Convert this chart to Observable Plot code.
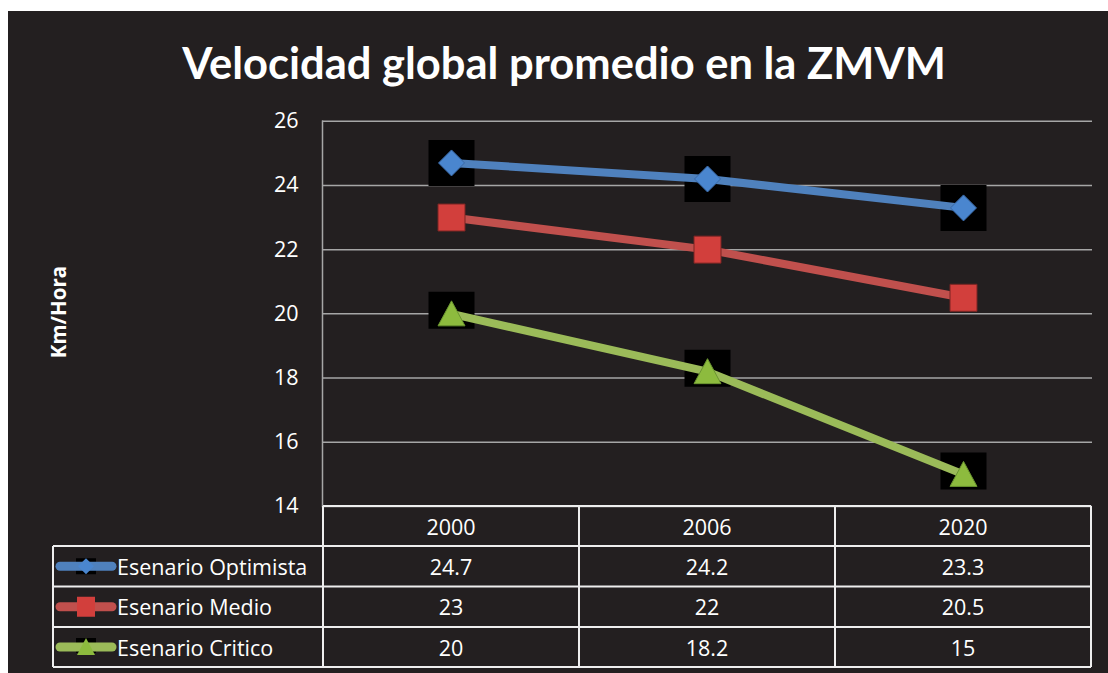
<!DOCTYPE html>
<html>
<head>
<meta charset="utf-8">
<script src="https://cdn.jsdelivr.net/npm/d3@7"></script>
<script src="https://cdn.jsdelivr.net/npm/@observablehq/plot@0.6"></script>
<style>
  html, body { margin: 0; padding: 0; background: #ffffff; }
  body { width: 1108px; height: 673px; position: relative; overflow: hidden; font-family: "Open Sans", sans-serif; }
  #bg { position: absolute; left: 8px; top: 11px; width: 1100px; height: 662px; background: #231f20; }
  #title { position: absolute; left: 0; top: 37px; width: 1128px; text-align: center; color: #fff;
           font: bold 43.5px Lato, sans-serif; line-height: 50px; margin: 0; }
  #chart { position: absolute; left: 0; top: 90px; }
  #overlay { position: absolute; left: 0; top: 0; }
</style>
</head>
<body>
<div id="bg"></div>
<div id="title"></div>
<div id="chart"></div>
<svg id="overlay" width="1108" height="673"></svg>
<script>
// ---- data ----
const years = ["2000", "2006", "2020"];
const seriesNames = ["Esenario Optimista", "Esenario Medio", "Esenario Critico"];
const optimista = [24.7, 24.2, 23.3];
const medio = [23, 22, 20.5];
const critico = [20, 18.2, 15];
const yTicks = [14, 16, 18, 20, 22, 24, 26];
const yLabel = "Km/Hora";
const titleText = "Velocidad global promedio en la ZMVM";

const seriesValues = [optimista, medio, critico];
const colors = ["#4f81bd", "#c0504d", "#9bbb59"];
const rows = seriesNames.flatMap((s, i) => years.map((y, j) => ({series: s, year: y, value: seriesValues[i][j]})));

document.getElementById("title").textContent = titleText;

// ---- marker shapes ----
const shape = pts => ({draw(ctx) { ctx.moveTo(...pts[0]); for (const p of pts.slice(1)) ctx.lineTo(...p); ctx.closePath(); }});
const bgSquare = shape([[-23, -23], [23, -23], [23, 23], [-23, 23]]);
const bgTri = shape([[-23, -22], [23, -22], [23, 15], [-23, 15]]);
const diamond = shape([[0, -13], [13, 0], [0, 13], [-13, 0]]);
const square = shape([[-13.5, -13.5], [13.5, -13.5], [13.5, 13.5], [-13.5, 13.5]]);
const triangle = shape([[0, -13], [13.5, 12], [-13.5, 12]]);

const ofSeries = i => rows.filter(d => d.series === seriesNames[i]);

const chart = Plot.plot({
  width: 1108,
  height: 430,
  marginLeft: 322,
  marginRight: 16,
  marginTop: 30.7,
  marginBottom: 14,
  style: {background: "transparent", color: "#ffffff", fontFamily: "'Open Sans', sans-serif"},
  x: {type: "point", domain: years, padding: 0.5, axis: null},
  y: {domain: [14, 26], ticks: yTicks},
  color: {domain: seriesNames, range: colors},
  marks: [
    Plot.gridY(yTicks, {stroke: "#a6a6a6", strokeOpacity: 1, strokeWidth: 1.5}),
    Plot.frame({anchor: "left", stroke: "#a6a6a6", strokeWidth: 1.5}),
    Plot.axisY(yTicks, {tickSize: 0, tickPadding: 24, fontSize: 21.5, label: null, fill: "#ffffff"}),
    Plot.dot(ofSeries(0), {x: "year", y: "value", symbol: bgSquare, r: 1, fill: "#000000"}),
    Plot.dot(ofSeries(2), {x: "year", y: "value", symbol: bgTri, r: 1, fill: "#000000"}),
    Plot.line(rows, {x: "year", y: "value", z: "series", stroke: "series", strokeWidth: 8}),
    Plot.dot(ofSeries(0), {x: "year", y: "value", symbol: diamond, r: 1, fill: "#4a86cf", stroke: "#3a6aa8", strokeWidth: 1}),
    Plot.dot(ofSeries(1), {x: "year", y: "value", symbol: square, r: 1, fill: "#d23f3c", stroke: "#7a2523", strokeWidth: 1}),
    Plot.dot(ofSeries(2), {x: "year", y: "value", symbol: triangle, r: 1, fill: "#8dbb3e", stroke: "#6a9430", strokeWidth: 1})
  ]
});
document.getElementById("chart").appendChild(chart);

// ---- data table below the chart, columns aligned on the chart's x scale ----
const xs = chart.scale("x");
const step = xs.apply(years[1]) - xs.apply(years[0]);
const colEdges = [xs.apply(years[0]) - step / 2, ...years.map(y => xs.apply(y) + step / 2)];
const legendLeft = 53;
const rowEdges = [506, 546, 586.5, 627, 667];
const ov = d3.select("#overlay");
const lineC = "#eeeeee";

// y axis label
ov.append("text").attr("transform", "translate(58,312) rotate(-90)")
  .attr("text-anchor", "middle").attr("dominant-baseline", "central").attr("fill", "#fff")
  .attr("font-family", "'Open Sans', sans-serif")
  .attr("font-weight", "bold").attr("font-size", 20.5).text(yLabel);

// grid lines of the table
const hl = (x1, x2, y) => ov.append("line").attr("x1", x1).attr("x2", x2).attr("y1", y).attr("y2", y).attr("stroke", lineC).attr("stroke-width", 2);
const vl = (x, y1, y2) => ov.append("line").attr("x1", x).attr("x2", x).attr("y1", y1).attr("y2", y2).attr("stroke", lineC).attr("stroke-width", 2);
hl(colEdges[0], colEdges[3], rowEdges[0]);
for (let r = 1; r < rowEdges.length; r++) hl(legendLeft, colEdges[3], rowEdges[r]);
colEdges.forEach(x => vl(x, rowEdges[0], rowEdges[4]));
vl(legendLeft, rowEdges[1], rowEdges[4]);

const txt = (x, y, s, anchor) => ov.append("text").attr("x", x).attr("y", y).attr("text-anchor", anchor)
  .attr("dominant-baseline", "central").attr("fill", "#fff").attr("font-family", "'Open Sans', sans-serif").attr("font-size", 21.5).text(s);

years.forEach((y, j) => txt(xs.apply(y), (rowEdges[0] + rowEdges[1]) / 2, y, "middle"));
const keyShapes = [
  {bg: [[-10, -8], [10, -8], [10, 8], [-10, 8]], m: [[0, -8], [8, 0], [0, 8], [-8, 0]], fill: "#4a86cf"},
  {bg: null, m: [[-9, -10], [9, -10], [9, 10], [-9, 10]], fill: "#d23f3c"},
  {bg: [[-10, -9], [10, -9], [10, 6], [-10, 6]], m: [[0, -9], [9, 8], [-9, 8]], fill: "#8dbb3e"}
];
const poly = pts => "M" + pts.map(p => p.join(",")).join("L") + "Z";
seriesNames.forEach((s, i) => {
  const cy = (rowEdges[i + 1] + rowEdges[i + 2]) / 2;
  const k = keyShapes[i];
  const g = ov.append("g").attr("transform", `translate(86,${cy})`);
  if (k.bg) g.append("path").attr("d", poly(k.bg)).attr("fill", "#000");
  g.append("line").attr("x1", -26).attr("x2", 26).attr("y1", 0).attr("y2", 0)
    .attr("stroke", colors[i]).attr("stroke-width", 9).attr("stroke-linecap", "round");
  g.append("path").attr("d", poly(k.m)).attr("fill", k.fill);
  txt(117, cy, s, "start");
  years.forEach((y, j) => txt(xs.apply(y), cy, String(seriesValues[i][j]), "middle"));
});
</script>
</body>
</html>
